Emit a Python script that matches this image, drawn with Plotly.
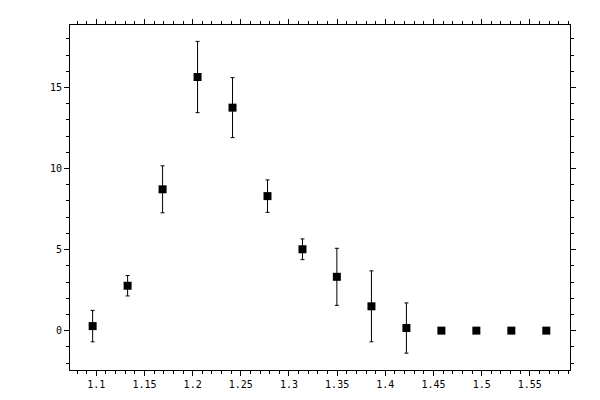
import plotly.graph_objects as go

x_vals = [1.0962, 1.1325, 1.1688, 1.2051, 1.2414, 1.2777, 1.3140,
          1.3497, 1.3856, 1.4219, 1.4582, 1.4945, 1.5308, 1.5671]
y_vals = [0.28, 2.77, 8.72, 15.65, 13.76, 8.30, 5.02,
          3.32, 1.50, 0.16, 0.0, 0.0, 0.0, 0.0]
y_err = [0.97, 0.63, 1.45, 2.2, 1.85, 1.0, 0.64,
         1.76, 2.19, 1.55, 0.0, 0.0, 0.0, 0.0]

x_range = [1.0727, 1.5917]
y_range = [-2.43, 18.86]

fig = go.Figure()
fig.add_trace(go.Scatter(
    x=x_vals, y=y_vals, mode="markers",
    marker=dict(symbol="square", size=8, color="black"),
    error_y=dict(type="data", array=y_err, visible=True,
                 color="black", thickness=1, width=2),
    showlegend=False,
))

axis_style = dict(
    showgrid=False, zeroline=False,
    showline=True, linecolor="black", linewidth=1,
    mirror="allticks", ticks="outside", ticklen=5, tickwidth=1,
    tickcolor="black",
    tickfont=dict(family="DejaVu Sans Mono", size=10, color="black"),
)

fig.update_xaxes(range=x_range, dtick=0.05, tick0=1.1,
                 minor=dict(dtick=0.01, ticks="outside", ticklen=3,
                            tickcolor="black", showgrid=False),
                 **axis_style)
fig.update_yaxes(range=y_range, dtick=5, tick0=0,
                 minor=dict(dtick=1, ticks="outside", ticklen=3,
                            tickcolor="black", showgrid=False),
                 **axis_style)

# page body adds an 8px offset, so margins are shifted to compensate
fig.update_layout(
    width=600, height=400,
    margin=dict(l=62, r=38, t=11, b=38),
    plot_bgcolor="white", paper_bgcolor="white",
)

fig.write_html("out.html")
